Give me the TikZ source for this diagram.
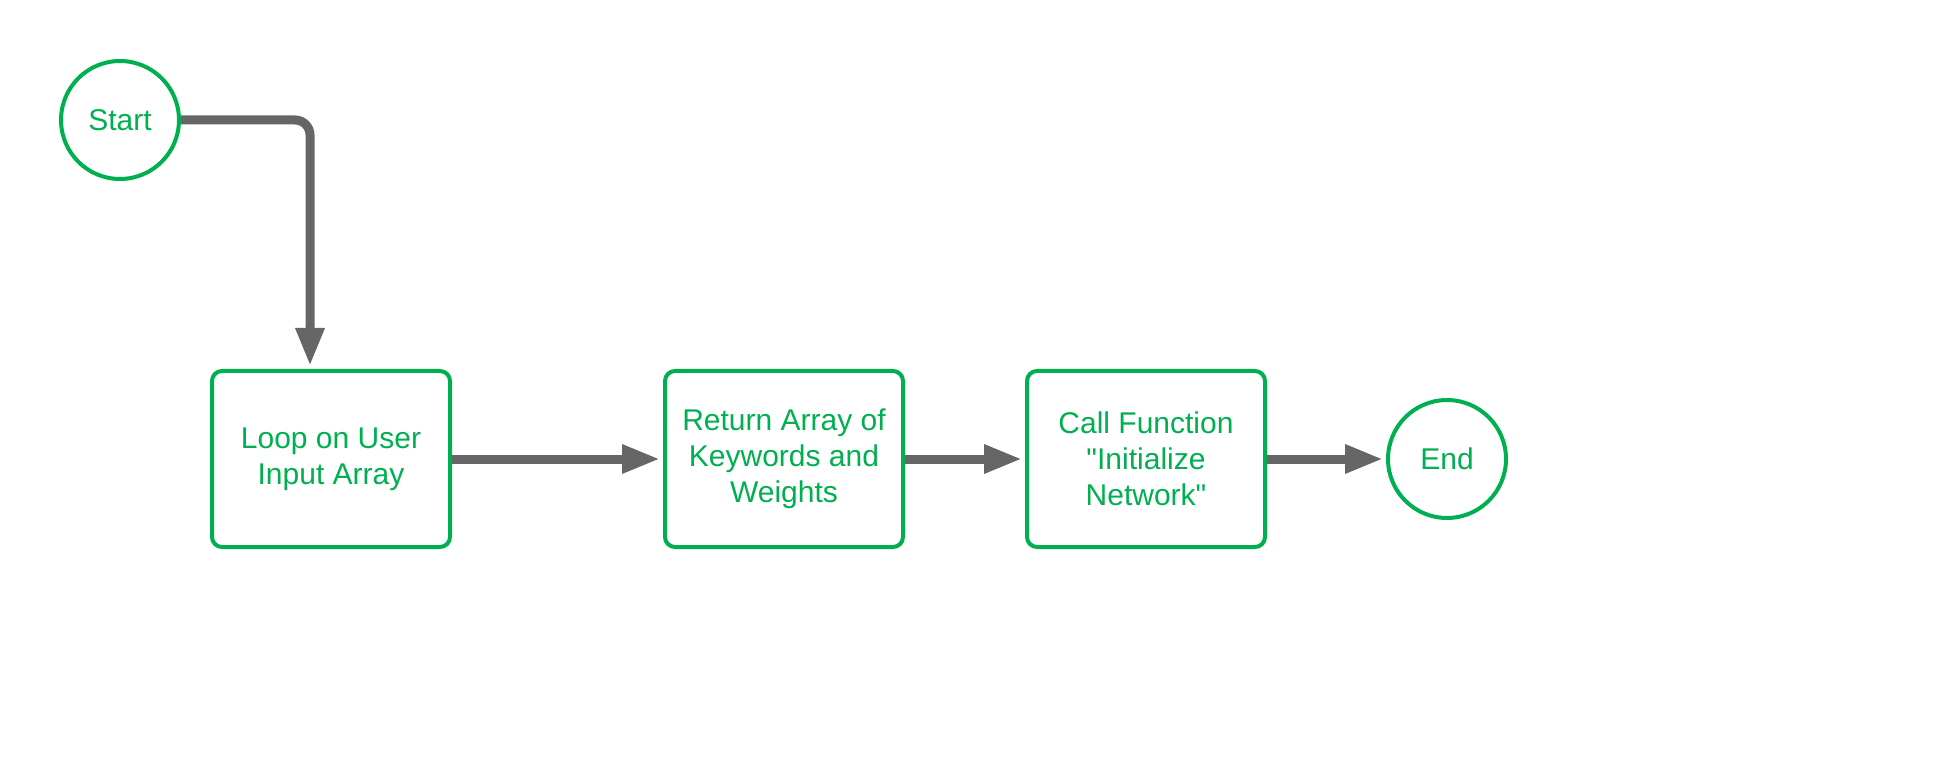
\documentclass[tikz,border=0pt]{standalone}
\usepackage{fontspec}
\setmainfont{Liberation Sans}[Ligatures=TeXOff]
\usetikzlibrary{arrows.meta}
\definecolor{fg}{HTML}{00B050}
\definecolor{ag}{HTML}{666666}
\begin{document}
\begin{tikzpicture}[x=0.5pt,y=-0.5pt,
  txt/.style={text=fg,font=\fontsize{15}{18}\selectfont,align=center},
  term/.style={txt,circle,draw=fg,line width=2pt,minimum size=59pt,inner sep=0pt},
  proc/.style={txt,rectangle,draw=fg,line width=2pt,rounded corners=5pt,minimum width=119pt,minimum height=88pt,inner sep=2pt},
  conn/.style={draw=ag,line width=4.5pt,-{Triangle[length=19pt,width=13.5pt]}}]
\useasboundingbox (0,0) rectangle (1950,759);
\node[term] (start) at (120,120) {Start};
\node[term] (end) at (1447,459) {End};
\node[proc] (b1) at (331,459) {Loop on User\\Input Array};
\node[proc] (b2) at (784,459) {Return Array of\\Keywords and\\Weights};
\node[proc] (b3) at (1146,459) {Call Function\\"Initialize\\Network"};
\draw[conn,rounded corners=7.5pt] (start.east) -| ([xshift=-10.5pt,yshift=1.5pt]b1.north);
\draw[conn] (b1.east) -- ([xshift=-1.5pt]b2.west);
\draw[conn] (b2.east) -- ([xshift=-1.5pt]b3.west);
\draw[conn] (b3.east) -- ([xshift=-1.5pt]end.west);
\end{tikzpicture}
\end{document}
